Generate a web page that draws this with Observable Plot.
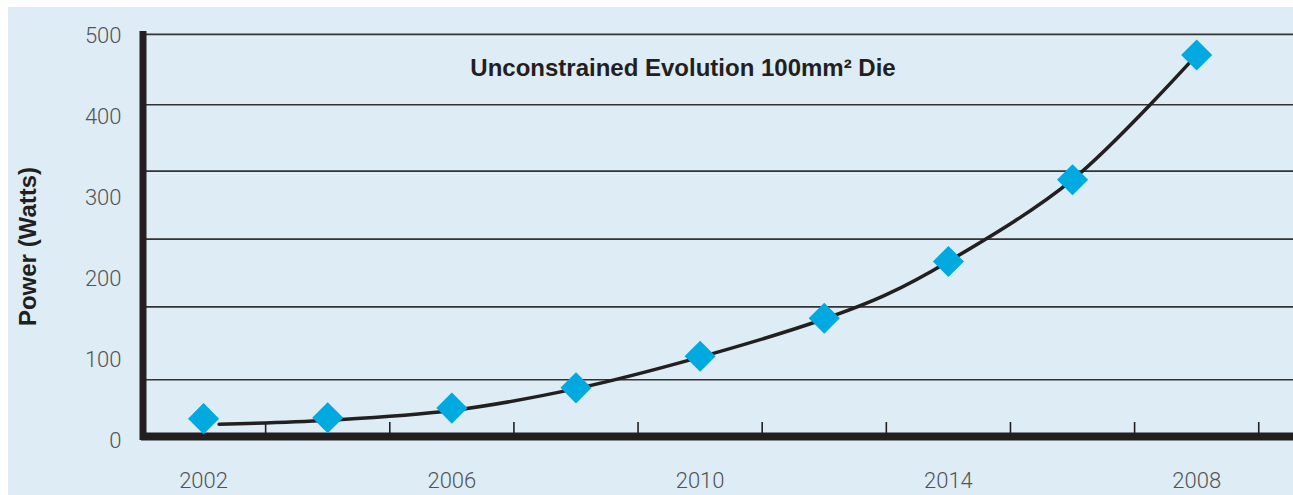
<!DOCTYPE html>
<html>
<head>
<meta charset="utf-8">
<script src="https://cdn.jsdelivr.net/npm/d3@7"></script>
<script src="https://cdn.jsdelivr.net/npm/@observablehq/plot@0.6"></script>
<style>
  html, body { margin: 0; padding: 0; background: #ffffff; }
  #chart { position: absolute; left: 8px; top: 7px; width: 1285px; height: 488px; background: #ddecf5; }
  #chart svg { display: block; }
</style>
</head>
<body>
<div id="chart"></div>
<script>
// ---- data ----
const years = [2002, 2004, 2006, 2008, 2010, 2012, 2014, 2016, 2018];
const power = [27, 28, 40, 65, 104, 151, 221, 322, 476];          // diamond markers
const curveYears = [2002.25, 2004, 2006, 2008, 2010, 2012, 2013, 2014, 2016, 2018];
const curvePower = [20, 25, 37, 64, 103, 150, 180, 221, 322, 476]; // black trend curve
const labelYears = [2002, 2006, 2010, 2014, 2018];
const labelText = ["2002", "2006", "2010", "2014", "2008"];
const tickYears = [2003, 2005, 2007, 2009, 2011, 2013, 2015, 2017, 2019];
const yTicks = [0, 100, 200, 300, 400, 500];
const gridValues = [75, 165, 248.5, 332.5, 414.5, 501.5];
const title = "Unconstrained Evolution 100mm² Die";
const yTitle = "Power (Watts)";

const points = years.map((y, i) => ({year: y, power: power[i]}));
const curve = curveYears.map((y, i) => ({year: y, power: curvePower[i]}));

const ink = "#231f20";
const numFont = "Roboto, 'Liberation Sans', sans-serif";
const boldFont = "'Liberation Sans', Arial, sans-serif";

const chart = Plot.plot({
  width: 1285,
  height: 488,
  marginLeft: 133,
  marginRight: 0,
  marginTop: 28,
  marginBottom: 55,
  style: {background: "transparent", fontFamily: numFont, overflow: "visible"},
  x: {domain: [2001, 2019.56], axis: null},
  y: {domain: [0, 500], axis: null},
  marks: [
    Plot.ruleY(gridValues, {stroke: "#333333", strokeWidth: 1.7}),
    Plot.axisY({ticks: yTicks, tickSize: 0, tickPadding: 20, label: null,
      fontSize: 22, fill: "#535356", fontWeight: 300}),
    Plot.axisX({ticks: tickYears, tickSize: -18, tickFormat: () => "", label: null,
      stroke: ink, strokeWidth: 1.6}),
    Plot.text(labelYears, {x: d => d, y: 0, dy: 40, text: (d, i) => labelText[i],
      fontSize: 22, fill: "#535356", fontWeight: 300, lineAnchor: "middle"}),
    Plot.ruleY([0], {dy: -4, stroke: ink, strokeWidth: 8}),
    Plot.ruleX([2001], {y1: 0, y2: 505, dx: 1.5, stroke: ink, strokeWidth: 7}),
    Plot.line(curve, {x: "year", y: "power", curve: "catmull-rom", stroke: ink, strokeWidth: 3.5}),
    Plot.dot(points, {x: "year", y: "power", symbol: "diamond2", r: 14, fill: "#00a9e0", stroke: "none"}),
    Plot.text([title], {frameAnchor: "top", dx: -34.5, dy: 33, text: d => d,
      textAnchor: "middle", lineAnchor: "middle",
      fontSize: 24, fontWeight: "bold", fill: ink, fontFamily: boldFont}),
    Plot.text([yTitle], {frameAnchor: "left", dx: -113, dy: 8.5, rotate: -90, text: d => d,
      textAnchor: "middle", lineAnchor: "middle",
      fontSize: 24, fontWeight: "bold", fill: ink, fontFamily: boldFont})
  ]
});
document.getElementById("chart").appendChild(chart);
</script>
</body>
</html>
